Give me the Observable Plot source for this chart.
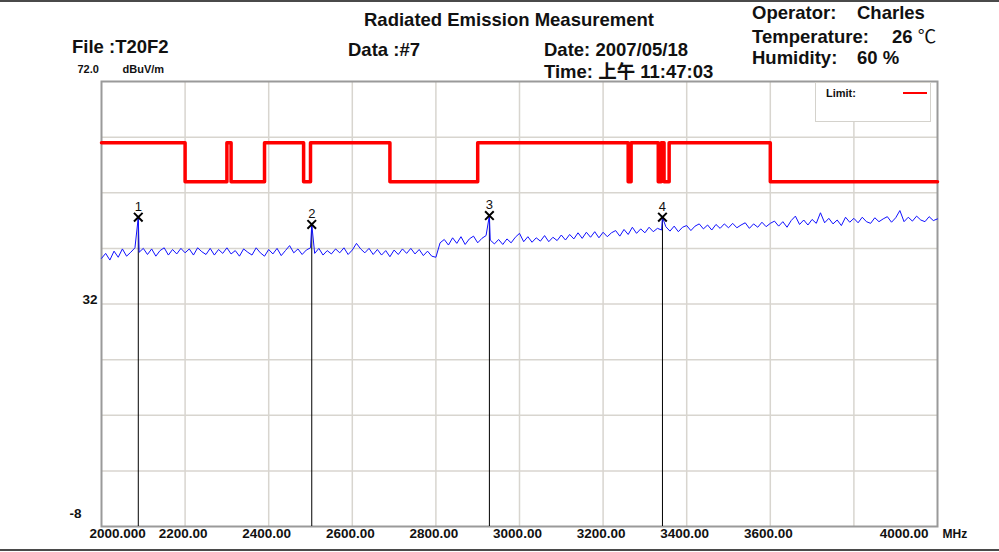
<!DOCTYPE html>
<html>
<head>
<meta charset="utf-8">
<script src="https://cdn.jsdelivr.net/npm/d3@7"></script>
<script src="https://cdn.jsdelivr.net/npm/@observablehq/plot@0.6"></script>
<style>
  html, body { margin: 0; padding: 0; background: #fff; }
  #wrap { position: relative; width: 999px; height: 552px; overflow: hidden; font-family: "Liberation Sans", Arial, "Noto Sans CJK SC", sans-serif; }
  #wrap svg { position: absolute; left: 0; top: 0; }
  .hd { position: absolute; font-size: 18.5px; font-weight: bold; line-height: 20px; color: #111; white-space: nowrap; }
  .rule { position: absolute; left: 0; width: 999px; height: 2px; background: #4a4a4a; }
  #legend { position: absolute; left: 815px; top: 82px; width: 116px; height: 40px; border: 1px solid #d4d2cc; background: #fff; box-sizing: border-box; }
  #legend .lbl { position: absolute; left: 10px; top: 4px; font-size: 11px; font-weight: bold; line-height: 12px; color: #111; }
  #legend .sw { position: absolute; left: 87px; top: 9px; width: 24px; height: 2px; background: #ff0000; }
  g[aria-label="unit"] text { letter-spacing: 2px; }
  g[aria-label="top-val"] text { letter-spacing: 1px; }
  g[aria-label="mhz"] text { letter-spacing: 1px; }
</style>
</head>
<body>
<div id="wrap">
  <div class="rule" style="top:0px"></div>
  <div class="rule" style="top:549px"></div>
  <div class="hd" style="left:364px; top:9.6px">Radiated Emission Measurement</div>
  <div class="hd" style="left:72px; top:36.6px">File :T20F2</div>
  <div class="hd" style="left:348px; top:39.6px">Data :#7</div>
  <div class="hd" style="left:544px; top:39.6px">Date: 2007/05/18</div>
  <div class="hd" style="left:544px; top:61.6px">Time: 上午 11:47:03</div>
  <div class="hd" style="left:752px; top:3px">Operator:</div>
  <div class="hd" style="left:857px; top:3px">Charles</div>
  <div class="hd" style="left:752px; top:26.6px">Temperature:</div>
  <div class="hd" style="left:892px; top:26.6px">26 <span style="font-weight:normal">℃</span></div>
  <div class="hd" style="left:752px; top:47.6px">Humidity:</div>
  <div class="hd" style="left:857px; top:47.6px">60 %</div>
  <div id="chart"></div>
  <div id="legend"><span class="lbl">Limit:</span><span class="sw"></span></div>
</div>
<script>
// ---- data ----
const xDomain = [2000, 4000];
const yDomain = [-8, 72];

const xTickValues = [2000, 2200, 2400, 2600, 2800, 3000, 3200, 3400, 3600, 4000];
const xTickLabels = ["2000.000", "2200.00", "2400.00", "2600.00", "2800.00", "3000.00", "3200.00", "3400.00", "3600.00", "4000.00"];
const xGridValues = [2200, 2400, 2600, 2800, 3000, 3200, 3400, 3600, 3800];
const yGridValues = [62, 52, 42, 32, 22, 12, 2];
const yLabelTop = "72.0";
const yLabelMid = "32";
const yLabelBottom = "-8";
const yUnit = "dBuV/m";
const xUnit = "MHz";

// Limit line (step function) breakpoints, MHz / dBuV/m
const limitFreq  = [2000, 2200, 2300, 2310, 2390, 2483.5, 2500, 2690, 2900, 3260, 3267, 3332, 3339, 3345.8, 3358, 3600, 4000];
const limitLevel = [61,   54,   61,   54,   61,   54,     61,   54,   61,   54,   61,   54,   61,   54,     61,   54,   54];

// Measured trace: 2000 MHz to 4000 MHz sampled every 10 MHz
const traceStart = 2000;
const traceStep = 10;
const traceLevel = [
  40.2, 41.1, 39.9, 41.5, 40.4, 41.9, 40.6, 41.3, 42.1, 41.3,
  42.0, 40.9, 41.9, 40.6, 41.6, 42.1, 40.8, 41.8, 41.0, 42.0,
  41.2, 41.9, 40.8, 42.1, 41.4, 40.9, 42.0, 40.8, 41.8, 41.1,
  42.1, 41.0, 41.6, 40.6, 41.9, 41.3, 40.8, 42.1, 41.2, 40.6,
  41.8, 41.0, 42.0, 40.7, 41.6, 42.5, 41.2, 41.9, 40.9, 41.7,
  42.1, 41.1, 42.0, 40.8, 41.6, 41.0, 41.9, 41.2, 42.1, 40.9,
  41.7, 42.9, 41.9, 41.2, 42.0, 40.9, 41.8, 40.8, 41.6, 40.5,
  41.7, 40.9, 41.9, 41.1, 42.0, 41.0, 41.8, 40.7, 41.5, 40.6,
  40.4, 43.0, 43.6, 42.6, 43.9, 42.9, 44.1, 42.7, 43.7, 44.2,
  43.0, 43.8, 44.3, 43.5, 42.8, 43.6, 42.7, 43.7, 43.0, 44.0,
  44.7, 43.2, 44.1, 43.1, 43.9, 43.3, 44.3, 43.2, 44.0, 43.4,
  44.4, 43.5, 44.5, 43.7, 44.8, 43.8, 44.9, 44.0, 45.0, 43.9,
  44.9, 44.1, 44.8, 45.2, 44.2, 45.4, 44.5, 45.8, 44.7, 45.5,
  44.8, 45.8, 45.0, 45.6, 45.3, 45.9, 45.1, 46.0, 45.0, 45.8,
  46.1, 45.2, 46.0, 46.4, 45.5, 46.2, 45.3, 46.3, 45.6, 46.4,
  45.7, 46.5, 45.7, 46.2, 46.6, 45.6, 46.4, 45.8, 46.7, 45.9,
  46.5, 46.9, 46.0, 46.8, 45.8, 47.0, 47.8, 46.3, 47.1, 46.2,
  47.2, 46.5, 48.4, 46.6, 47.4, 46.4, 47.1, 46.1, 47.6, 46.7,
  47.4, 46.6, 47.6, 46.8, 46.5, 47.5, 46.8, 47.3, 47.7, 46.7,
  47.5, 48.8, 46.8, 47.6, 46.9, 47.8, 47.1, 46.8, 47.7, 47.0,
  47.3
];

// Peak markers
const markerFreq  = [2088, 2503, 2928, 3342];
const markerLevel = [47.6, 46.3, 47.9, 47.6];
const markerLabel = ["1", "2", "3", "4"];

// ---- tables built from the arrays ----
const limitData = limitFreq.map((f, i) => ({f, v: limitLevel[i]}));
const markers = markerFreq.map((f, i) => ({f, v: markerLevel[i], t: markerLabel[i]}));
const traceData = traceLevel.map((v, i) => ({f: traceStart + i * traceStep, v}))
  .concat(markers.map(m => ({f: m.f, v: m.v})))
  .sort((a, b) => a.f - b.f);
const ticks = xTickValues.map((v, i) => ({v, t: xTickLabels[i]}));

const font = "'Liberation Sans', Arial, sans-serif";
const tickStyle = {fontSize: 13.5, fontWeight: "bold", fill: "#111", fontFamily: font};

const chart = Plot.plot({
  width: 999,
  height: 552,
  marginLeft: 101,
  marginRight: 62,
  marginTop: 81,
  marginBottom: 26,
  style: {fontFamily: font, background: "transparent", overflow: "visible"},
  x: {domain: xDomain, axis: null},
  y: {domain: yDomain, axis: null},
  marks: [
    Plot.ruleX(xGridValues, {stroke: "#d8d5cf", strokeWidth: 1.5}),
    Plot.ruleY(yGridValues, {stroke: "#d8d5cf", strokeWidth: 1.5}),
    Plot.frame({stroke: "#9a9a9a", strokeWidth: 2}),
    Plot.line(limitData, {x: "f", y: "v", curve: "step-after", stroke: "#ff0000", strokeWidth: 3.5}),
    Plot.ruleX(markers, {x: "f", y1: yDomain[0], y2: "v", stroke: "#000", strokeWidth: 1}),
    Plot.line(traceData, {x: "f", y: "v", stroke: "#1010ff", strokeWidth: 1}),
    Plot.dot(markers, {x: "f", y: "v", symbol: "times", r: 4, stroke: "#000", strokeWidth: 2}),
    Plot.text(markers, {x: "f", y: "v", text: "t", dy: -10.5, fontSize: 13, fill: "#111", fontFamily: font}),
    // x tick labels
    Plot.text(ticks.filter(d => d.v === xDomain[0]), {x: "v", text: "t", frameAnchor: "bottom", dy: 11, dx: -12, textAnchor: "start", ...tickStyle}),
    Plot.text(ticks.filter(d => d.v !== xDomain[0] && d.v !== xDomain[1]), {x: "v", text: "t", frameAnchor: "bottom", dy: 11, dx: -2, ...tickStyle}),
    Plot.text(ticks.filter(d => d.v === xDomain[1]), {x: "v", text: "t", frameAnchor: "bottom", dy: 11, dx: -9, textAnchor: "end", ...tickStyle}),
    Plot.text([xUnit], {x: xDomain[1], text: d => d, frameAnchor: "bottom", dy: 11, dx: 5, textAnchor: "start", ariaLabel: "mhz", fontSize: 12, fontWeight: "bold", fill: "#111", fontFamily: font}),
    // y labels
    Plot.text([yLabelMid], {y: +yLabelMid, text: d => d, frameAnchor: "left", dx: -4, dy: -4, textAnchor: "end", ...tickStyle}),
    Plot.text([yLabelBottom], {y: +yLabelBottom, text: d => d, frameAnchor: "left", dx: -20, dy: -13, textAnchor: "end", ...tickStyle}),
    Plot.text([yLabelTop], {y: +yLabelTop, text: d => d, frameAnchor: "left", dx: -24, dy: -12.5, textAnchor: "start", ariaLabel: "top-val", fontSize: 11, fontWeight: "bold", fill: "#111", fontFamily: font}),
    Plot.text([yUnit], {y: +yLabelTop, text: d => d, frameAnchor: "left", dx: 21, dy: -12.5, textAnchor: "start", ariaLabel: "unit", fontSize: 11, fontWeight: "bold", fill: "#111", fontFamily: font})
  ]
});
document.getElementById("chart").appendChild(chart);
</script>
</body>
</html>
